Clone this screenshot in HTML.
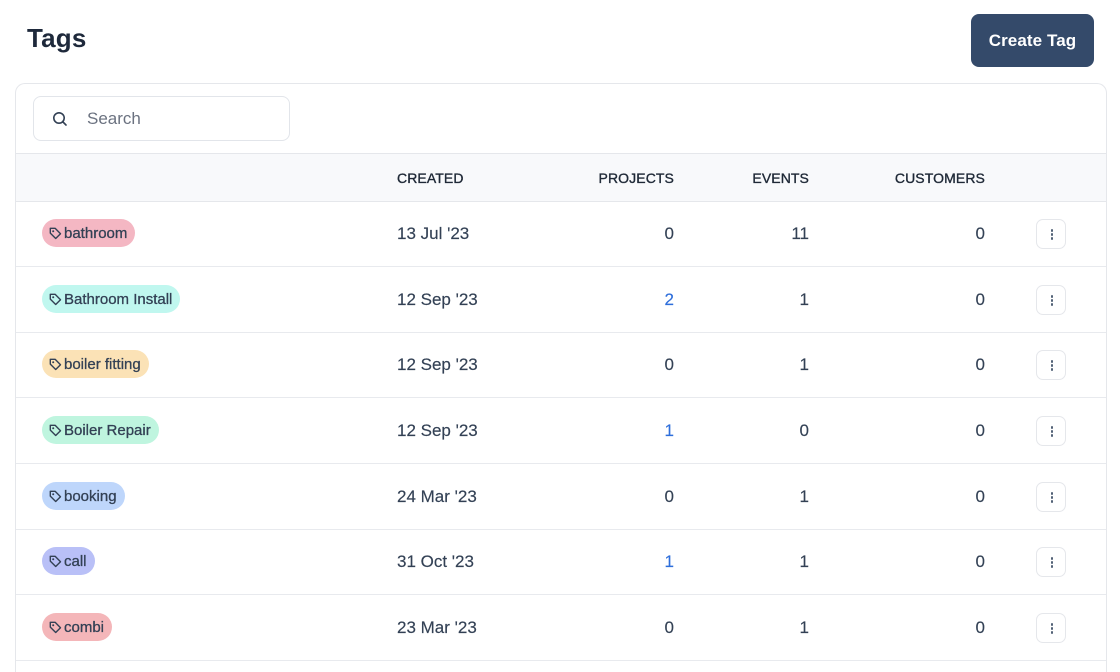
<!DOCTYPE html>
<html>
<head>
<meta charset="utf-8">
<style>
  html,body{margin:0;padding:0;background:#fff;width:1120px;height:672px;overflow:hidden;}
  body{position:relative;font-family:"Liberation Sans",Arial,sans-serif;color:#334155;}
  .title{position:absolute;left:27px;top:20px;font-size:26px;font-weight:700;color:#1e293b;line-height:36px;letter-spacing:0.2px;}
  .btn{position:absolute;left:971px;top:14px;width:123px;height:53px;background:#344a6a;border-radius:8px;color:#fff;font-size:17px;font-weight:700;display:flex;align-items:center;justify-content:center;letter-spacing:0.1px;}
  .card{position:absolute;left:15px;top:83px;width:1090px;height:589px;border:1px solid #e5e7eb;border-bottom:none;border-radius:10px 10px 0 0;background:#fff;overflow:hidden;}
  .search{position:absolute;left:17px;top:12px;width:255px;height:43px;border:1px solid #e2e5ea;border-radius:8px;}
  .search .ph{position:absolute;left:53px;top:0;line-height:43px;font-size:17px;color:#6b7280;}
  .search svg{position:absolute;left:18px;top:14px;}
  .thead{position:absolute;left:0;top:69px;width:1090px;height:47px;background:#f8f9fb;border-top:1px solid #e5e7eb;border-bottom:1px solid #e5e7eb;font-size:14px;color:#1f2937;letter-spacing:0.1px;-webkit-text-stroke:0.35px #1f2937;}
  .thead span{position:absolute;top:0;line-height:48px;}
  .row{position:absolute;left:0;width:1090px;height:65px;border-bottom:1px solid #e8eaee;font-size:17px;color:#334155;-webkit-text-stroke:0.15px #334155;}
  .row span{position:absolute;top:0;line-height:66px;}
  .r{text-align:right;}
  .blue{color:#2f6fdb;-webkit-text-stroke:0.15px #2f6fdb;}
  .badge{position:absolute;left:26px;top:18px;height:28px;border-radius:14px;display:flex;align-items:center;padding:0 8px 0 7px;font-size:15px;line-height:28px;color:#334155;white-space:nowrap;-webkit-text-stroke:0.3px #334155;}
  .badge em{font-style:normal;position:relative;top:1px;}
  .badge svg{margin-right:2px;}
  .kebab{position:absolute;left:1020px;top:18px;width:30px;height:30px;border:1px solid #e5e7eb;border-radius:7px;box-sizing:border-box;background:#fff;}
  .kebab i{position:absolute;left:13.5px;width:2.5px;height:2.5px;border-radius:50%;background:#516176;}
</style>
</head>
<body>
<div class="title">Tags</div>
<div class="btn">Create Tag</div>
<div class="card">
  <div class="search">
    <svg width="16" height="16" viewBox="0 0 16 16"><circle cx="7" cy="7" r="5.2" fill="none" stroke="#334155" stroke-width="1.6"/><line x1="11" y1="11" x2="14" y2="14" stroke="#334155" stroke-width="1.6" stroke-linecap="round"/></svg>
    <div class="ph">Search</div>
  </div>
  <div class="thead">
    <span style="left:381px;">CREATED</span>
    <span style="left:558px;width:100px;" class="r">PROJECTS</span>
    <span style="left:693px;width:100px;" class="r">EVENTS</span>
    <span style="left:869px;width:100px;" class="r">CUSTOMERS</span>
  </div>

  <div class="row" style="top:117px;">
    <div class="badge" style="background:#f4b7c3;"><svg width="13" height="13" viewBox="0 0 13 13"><path d="M1.3 1.3h4.8l5.4 5.4-4.8 4.8-5.4-5.4z" fill="none" stroke="#334155" stroke-width="1.4" stroke-linejoin="round"/><circle cx="4.2" cy="4.2" r="1" fill="#334155"/></svg><em>bathroom</em></div>
    <span style="left:381px;">13 Jul '23</span>
    <span style="left:558px;width:100px;" class="r">0</span>
    <span style="left:693px;width:100px;" class="r">11</span>
    <span style="left:869px;width:100px;" class="r">0</span>
    <div class="kebab"><i style="top:9px"></i><i style="top:13px"></i><i style="top:17px"></i></div>
  </div>

  <div class="row" style="top:183px;">
    <div class="badge" style="background:#c0f7ef;"><svg width="13" height="13" viewBox="0 0 13 13"><path d="M1.3 1.3h4.8l5.4 5.4-4.8 4.8-5.4-5.4z" fill="none" stroke="#334155" stroke-width="1.4" stroke-linejoin="round"/><circle cx="4.2" cy="4.2" r="1" fill="#334155"/></svg><em>Bathroom Install</em></div>
    <span style="left:381px;">12 Sep '23</span>
    <span style="left:558px;width:100px;" class="r blue">2</span>
    <span style="left:693px;width:100px;" class="r">1</span>
    <span style="left:869px;width:100px;" class="r">0</span>
    <div class="kebab"><i style="top:9px"></i><i style="top:13px"></i><i style="top:17px"></i></div>
  </div>

  <div class="row" style="top:248px;">
    <div class="badge" style="background:#fbe2b6;"><svg width="13" height="13" viewBox="0 0 13 13"><path d="M1.3 1.3h4.8l5.4 5.4-4.8 4.8-5.4-5.4z" fill="none" stroke="#334155" stroke-width="1.4" stroke-linejoin="round"/><circle cx="4.2" cy="4.2" r="1" fill="#334155"/></svg><em>boiler fitting</em></div>
    <span style="left:381px;">12 Sep '23</span>
    <span style="left:558px;width:100px;" class="r">0</span>
    <span style="left:693px;width:100px;" class="r">1</span>
    <span style="left:869px;width:100px;" class="r">0</span>
    <div class="kebab"><i style="top:9px"></i><i style="top:13px"></i><i style="top:17px"></i></div>
  </div>

  <div class="row" style="top:314px;">
    <div class="badge" style="background:#bff5df;"><svg width="13" height="13" viewBox="0 0 13 13"><path d="M1.3 1.3h4.8l5.4 5.4-4.8 4.8-5.4-5.4z" fill="none" stroke="#334155" stroke-width="1.4" stroke-linejoin="round"/><circle cx="4.2" cy="4.2" r="1" fill="#334155"/></svg><em>Boiler Repair</em></div>
    <span style="left:381px;">12 Sep '23</span>
    <span style="left:558px;width:100px;" class="r blue">1</span>
    <span style="left:693px;width:100px;" class="r">0</span>
    <span style="left:869px;width:100px;" class="r">0</span>
    <div class="kebab"><i style="top:9px"></i><i style="top:13px"></i><i style="top:17px"></i></div>
  </div>

  <div class="row" style="top:380px;">
    <div class="badge" style="background:#bed6fb;"><svg width="13" height="13" viewBox="0 0 13 13"><path d="M1.3 1.3h4.8l5.4 5.4-4.8 4.8-5.4-5.4z" fill="none" stroke="#334155" stroke-width="1.4" stroke-linejoin="round"/><circle cx="4.2" cy="4.2" r="1" fill="#334155"/></svg><em>booking</em></div>
    <span style="left:381px;">24 Mar '23</span>
    <span style="left:558px;width:100px;" class="r">0</span>
    <span style="left:693px;width:100px;" class="r">1</span>
    <span style="left:869px;width:100px;" class="r">0</span>
    <div class="kebab"><i style="top:9px"></i><i style="top:13px"></i><i style="top:17px"></i></div>
  </div>

  <div class="row" style="top:445px;">
    <div class="badge" style="background:#b9c0f7;"><svg width="13" height="13" viewBox="0 0 13 13"><path d="M1.3 1.3h4.8l5.4 5.4-4.8 4.8-5.4-5.4z" fill="none" stroke="#334155" stroke-width="1.4" stroke-linejoin="round"/><circle cx="4.2" cy="4.2" r="1" fill="#334155"/></svg><em>call</em></div>
    <span style="left:381px;">31 Oct '23</span>
    <span style="left:558px;width:100px;" class="r blue">1</span>
    <span style="left:693px;width:100px;" class="r">1</span>
    <span style="left:869px;width:100px;" class="r">0</span>
    <div class="kebab"><i style="top:9px"></i><i style="top:13px"></i><i style="top:17px"></i></div>
  </div>

  <div class="row" style="top:511px;">
    <div class="badge" style="background:#f4b6b9;"><svg width="13" height="13" viewBox="0 0 13 13"><path d="M1.3 1.3h4.8l5.4 5.4-4.8 4.8-5.4-5.4z" fill="none" stroke="#334155" stroke-width="1.4" stroke-linejoin="round"/><circle cx="4.2" cy="4.2" r="1" fill="#334155"/></svg><em>combi</em></div>
    <span style="left:381px;">23 Mar '23</span>
    <span style="left:558px;width:100px;" class="r">0</span>
    <span style="left:693px;width:100px;" class="r">1</span>
    <span style="left:869px;width:100px;" class="r">0</span>
    <div class="kebab"><i style="top:9px"></i><i style="top:13px"></i><i style="top:17px"></i></div>
  </div>
</div>
</body>
</html>
